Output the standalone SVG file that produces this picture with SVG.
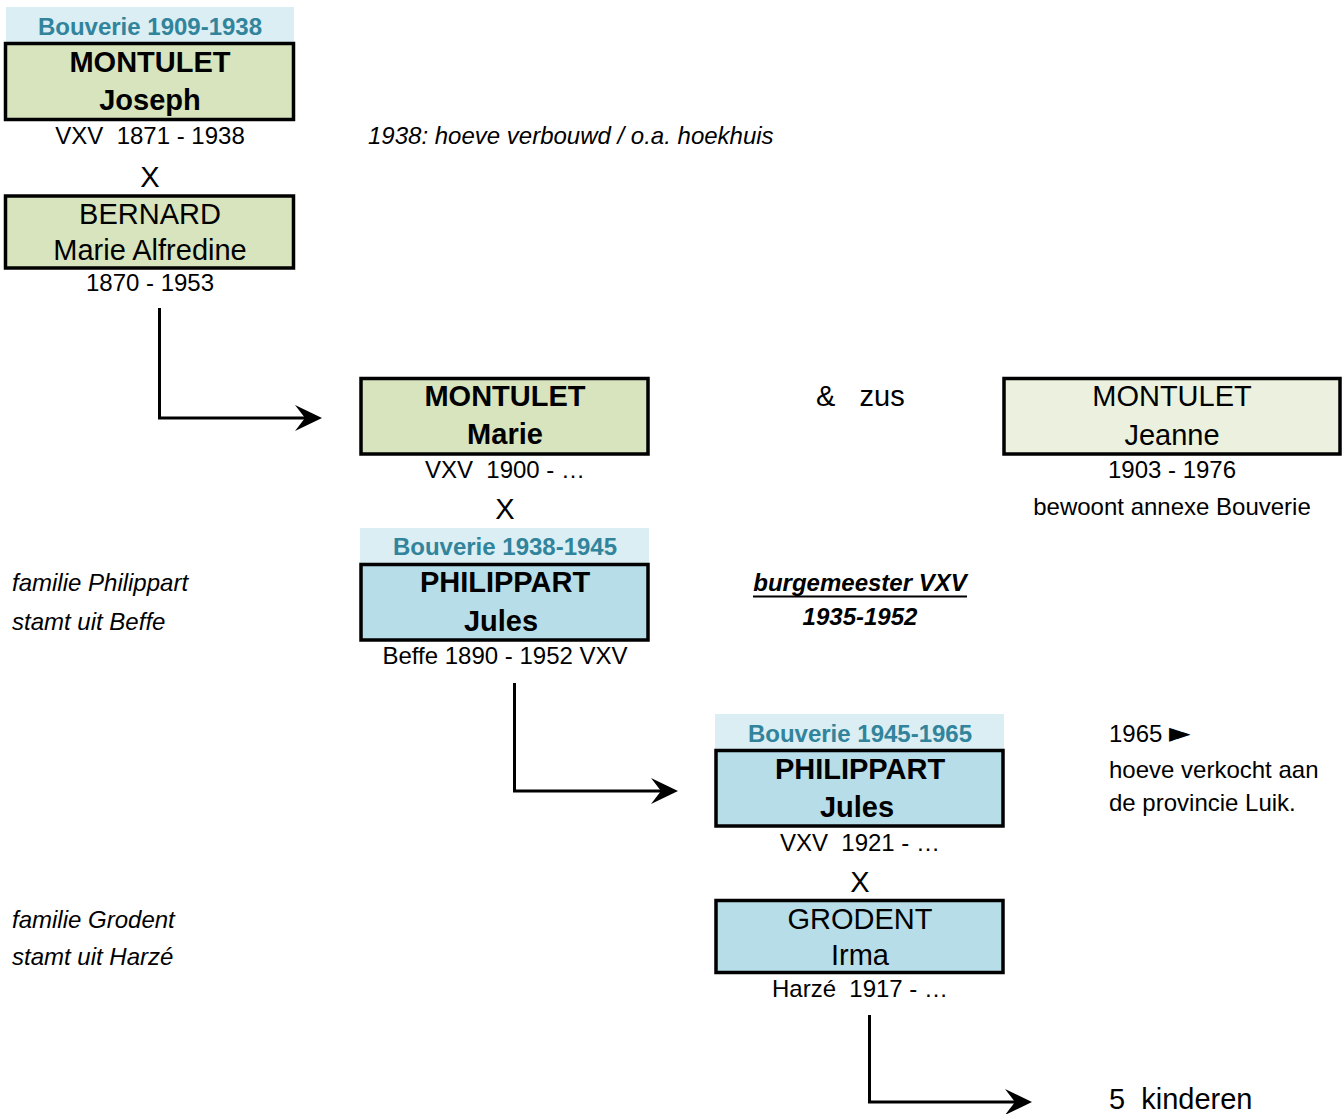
<svg xmlns="http://www.w3.org/2000/svg" width="1344" height="1114" viewBox="0 0 1344 1114">
<defs>
<style>
text{font-family:"Liberation Sans",Arial,sans-serif;fill:#000;}
.c{text-anchor:middle;}
.hd{font-size:24px;font-weight:bold;fill:#31849b;}
.band{fill:#daeef3;}
.nm{font-size:29px;}
.b{font-weight:bold;}
.t{font-size:24px;}
.x{font-size:29px;}
.it{font-style:italic;}
.g{fill:#d7e4bd;stroke:#000;stroke-width:3.5;}
.lg{fill:#ebf1de;stroke:#000;stroke-width:3.5;}
.bl{fill:#b7dde8;stroke:#000;stroke-width:3.5;}
.con{fill:none;stroke:#000;stroke-width:3;}
</style>
<marker id="ah" viewBox="0 0 27 26" refX="17" refY="13" markerWidth="27" markerHeight="26" markerUnits="userSpaceOnUse" orient="auto">
<path d="M0,0 L27,13 L0,26 L10,13 Z" fill="#000"/>
</marker>
</defs>
<rect width="1344" height="1114" fill="#fff"/>

<g id="joseph">
<rect class="band" x="6" y="7" width="288" height="35"/>
<text class="hd c" x="150" y="35">Bouverie 1909-1938</text>
<rect class="g" x="5.5" y="43.5" width="288" height="76"/>
<text class="nm b c" x="150" y="72">MONTULET</text>
<text class="nm b c" x="150" y="110">Joseph</text>
<text class="t c" x="150" y="144" xml:space="preserve">VXV  1871 - 1938</text>
<text class="x c" x="150" y="187">X</text>
</g>

<g id="bernard">
<rect class="g" x="5.5" y="196" width="288" height="72"/>
<text class="nm c" x="150" y="224">BERNARD</text>
<text class="nm c" x="150" y="260">Marie Alfredine</text>
<text class="t c" x="150" y="291">1870 - 1953</text>
</g>

<text id="note1938" class="t it" x="368" y="144">1938: hoeve verbouwd / o.a. hoekhuis</text>

<g id="marie">
<rect class="g" x="361" y="378.5" width="287" height="75.5"/>
<text class="nm b c" x="505" y="406">MONTULET</text>
<text class="nm b c" x="505" y="444">Marie</text>
<text class="t c" x="505" y="478" xml:space="preserve">VXV  1900 - …</text>
<text class="x c" x="505" y="519">X</text>
</g>

<text id="zus" class="nm" x="816" y="406" xml:space="preserve">&amp;   zus</text>

<g id="jeanne">
<rect class="lg" x="1004" y="378.5" width="336" height="75.5"/>
<text class="nm c" x="1172" y="406">MONTULET</text>
<text class="nm c" x="1172" y="445">Jeanne</text>
<text class="t c" x="1172" y="478">1903 - 1976</text>
<text class="t c" x="1172" y="515">bewoont annexe Bouverie</text>
</g>

<g id="jules1">
<rect class="band" x="360" y="528" width="289" height="35"/>
<text class="hd c" x="505" y="555">Bouverie 1938-1945</text>
<rect class="bl" x="361" y="564.5" width="287" height="75.5"/>
<text class="nm b c" x="505" y="592">PHILIPPART</text>
<text class="nm b c" x="501" y="631">Jules</text>
<text class="t c" x="505" y="664">Beffe 1890 - 1952 VXV</text>
</g>

<g id="notes-philippart">
<text class="t it" x="12" y="591">familie Philippart</text>
<text class="t it" x="12" y="630">stamt uit Beffe</text>
</g>

<g id="burgemeester">
<text class="t it b c" x="860" y="591">burgemeester VXV</text>
<line x1="753" y1="596.5" x2="967" y2="596.5" stroke="#000" stroke-width="2"/>
<text class="t it b c" x="860" y="625">1935-1952</text>
</g>

<g id="jules2">
<rect class="band" x="715" y="714" width="289" height="35"/>
<text class="hd c" x="860" y="742">Bouverie 1945-1965</text>
<rect class="bl" x="716" y="750.5" width="287" height="75.5"/>
<text class="nm b c" x="860" y="779">PHILIPPART</text>
<text class="nm b c" x="857" y="817">Jules</text>
<text class="t c" x="860" y="851" xml:space="preserve">VXV  1921 - …</text>
<text class="x c" x="860" y="892">X</text>
</g>

<g id="note1965">
<text class="t" x="1109" y="742">1965 <tspan font-family="'DejaVu Sans',sans-serif" font-size="28">►</tspan></text>
<text class="t" x="1109" y="778">hoeve verkocht aan</text>
<text class="t" x="1109" y="811">de provincie Luik.</text>
</g>

<g id="grodent">
<rect class="bl" x="716" y="900.5" width="287" height="72"/>
<text class="nm c" x="860" y="929">GRODENT</text>
<text class="nm c" x="860" y="965">Irma</text>
<text class="t c" x="860" y="997" xml:space="preserve">Harzé  1917 - …</text>
</g>

<g id="notes-grodent">
<text class="t it" x="12" y="928">familie Grodent</text>
<text class="t it" x="12" y="965">stamt uit Harzé</text>
</g>

<text id="kinderen" class="nm" x="1109" y="1109" xml:space="preserve">5  kinderen</text>

<g id="connectors">
<path class="con" d="M159.5,308 V418 H312" marker-end="url(#ah)"/>
<path class="con" d="M514.5,683 V791 H668" marker-end="url(#ah)"/>
<path class="con" d="M869.5,1015 V1102 H1022" marker-end="url(#ah)"/>
</g>
</svg>
